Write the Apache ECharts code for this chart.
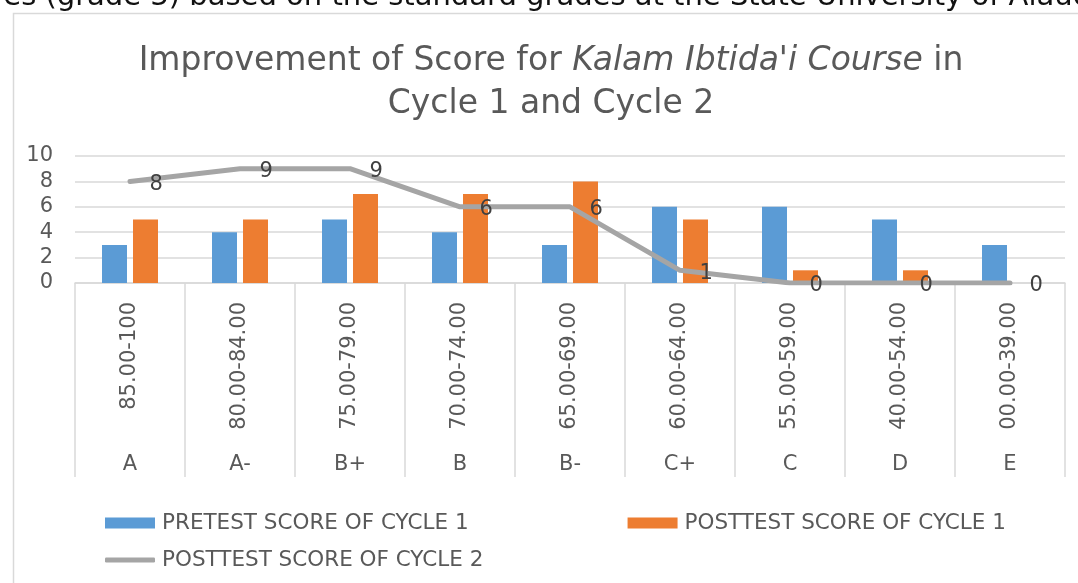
<!DOCTYPE html>
<html>
<head>
<meta charset="utf-8">
<script src="https://cdn.jsdelivr.net/npm/echarts@6/dist/echarts.min.js"></script>
<style>
html,body{margin:0;padding:0;background:#fff;}
#chart{width:1078px;height:583px;}
</style>
</head>
<body>
<div id="chart"></div>
<script>
var rangeLabels = ['85.00-100','80.00-84.00','75.00-79.00','70.00-74.00','65.00-69.00','60.00-64.00','55.00-59.00','40.00-54.00','00.00-39.00'];
var gradeLabels = ['A','A-','B+','B','B-','C+','C','D','E'];
var pretest1 = [3,4,5,4,3,6,6,5,3];
var posttest1 = [5,5,7,7,8,5,1,1,0];
var posttest2 = [8,9,9,6,6,1,0,0,0];
var yTicks = {min:0, max:10, interval:2};

var FONT = "'DejaVu Sans',sans-serif";
var chart = echarts.init(document.getElementById('chart'));
chart.setOption({
  animation:false,
  textStyle:{fontFamily:FONT},
  title:{
    left:551,
    top:40,
    textAlign:'center',
    padding:0,
    text:"{n|Improvement of Score for }{i|Kalam Ibtida'i Course}{n| in}\n{n|Cycle 1 and Cycle 2}",
    textStyle:{
      fontWeight:'normal',
      rich:{
        n:{fontSize:33,color:'#595959',fontFamily:FONT,fontWeight:'normal',lineHeight:43},
        i:{fontSize:33,color:'#595959',fontFamily:FONT,fontWeight:'normal',fontStyle:'italic',lineHeight:43}
      }
    }
  },
  graphic:[
    {type:'rect',shape:{x:13.5,y:13.5,width:1100,height:600},style:{fill:'none',stroke:'#D9D9D9',lineWidth:1.5},silent:true},
    {type:'text',x:-8,y:-3,style:{text:'res (grade 3) based on the standard grades at the State University of Alauddin',font:'29px "DejaVu Sans"',fill:'#111',verticalAlign:'middle'},silent:true}
  ],
  legend:[
    {left:100,top:507,itemWidth:50,itemHeight:11,itemGap:159,icon:'rect',
     textStyle:{fontSize:21.5,color:'#595959',fontFamily:FONT,padding:[0,0,0,2]},
     data:['PRETEST SCORE OF CYCLE 1','POSTTEST SCORE OF CYCLE 1']},
    {left:100,top:544,itemWidth:50,itemHeight:5,icon:'roundRect',
     textStyle:{fontSize:21.5,color:'#595959',fontFamily:FONT,padding:[0,0,0,2]},
     data:['POSTTEST SCORE OF CYCLE 2']}
  ],
  grid:{left:75,right:13,top:156,bottom:300,containLabel:false},
  xAxis:[
    {type:'category',data:rangeLabels,boundaryGap:true,
     axisLine:{show:true,lineStyle:{color:'#D9D9D9',width:1.5}},
     axisTick:{show:true,length:194,interval:0,lineStyle:{color:'#D9D9D9',width:1.5}},
     axisLabel:{rotate:90,margin:19,interval:0,fontSize:21,color:'#595959',fontFamily:FONT}},
    {type:'category',data:gradeLabels,position:'bottom',boundaryGap:true,
     axisLine:{show:false},axisTick:{show:false},
     axisLabel:{margin:171,interval:0,fontSize:21,color:'#595959',fontFamily:FONT}}
  ],
  yAxis:{type:'value',min:yTicks.min,max:yTicks.max,interval:yTicks.interval,
    axisLine:{show:false},axisTick:{show:false},
    splitLine:{lineStyle:{color:'#D9D9D9',width:1.5}},
    axisLabel:{margin:22,fontSize:21,color:'#595959',fontFamily:FONT,padding:[4,0,0,0]}},
  series:[
    {name:'PRETEST SCORE OF CYCLE 1',type:'bar',data:pretest1,barWidth:25,barGap:'24%',
     itemStyle:{color:'#5B9BD5'}},
    {name:'POSTTEST SCORE OF CYCLE 1',type:'bar',data:posttest1,barWidth:25,barGap:'24%',
     itemStyle:{color:'#ED7D31'}},
    {name:'POSTTEST SCORE OF CYCLE 2',type:'line',data:posttest2,symbol:'circle',symbolSize:1,showSymbol:true,
     lineStyle:{color:'#A5A5A5',width:5,cap:'round',join:'round'},itemStyle:{color:'#A5A5A5'},
     z:5,
     label:{show:true,position:'right',distance:19,offset:[0,3],fontSize:21,color:'#404040',fontFamily:FONT}}
  ]
});
</script>
</body>
</html>
